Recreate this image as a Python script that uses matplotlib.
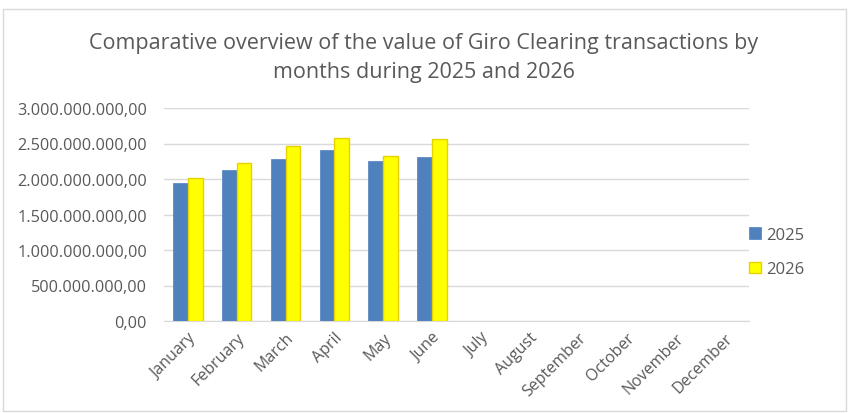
import matplotlib.pyplot as plt
import numpy as np
from matplotlib.ticker import FuncFormatter
from matplotlib.patches import Rectangle

months = ["January", "February", "March", "April", "May", "June", "July",
          "August", "September", "October", "November", "December"]
values_2025 = [1.948e9, 2.12e9, 2.28e9, 2.41e9, 2.25e9, 2.31e9]
values_2026 = [2.014e9, 2.23e9, 2.47e9, 2.58e9, 2.33e9, 2.56e9]
series_labels = ["2025", "2026"]

plt.rcParams['font.family'] = ['Open Sans', 'DejaVu Sans']

fig = plt.figure(figsize=(8.48, 4.14), dpi=100)
ax = fig.add_axes([163.6 / 848, (414 - 322) / 414, (749 - 163.6) / 848, (322 - 109) / 414])

x = np.arange(len(months))
w = 0.3
ax.bar(x[:len(values_2025)] - w / 2, values_2025, w, color="#4F81BD",
       edgecolor="#4F81BD", linewidth=0.5, label=series_labels[0], zorder=3)
ax.bar(x[:len(values_2026)] + w / 2, values_2026, w, color="#FFFF00",
       edgecolor="#E6D200", linewidth=1.0, label=series_labels[1], zorder=3)

ax.set_xlim(-0.5, len(months) - 0.5)
ax.set_ylim(0, 3.0e9)
ax.set_yticks(np.arange(0, 3.0e9 + 1, 0.5e9))


def fmt(v, pos):
    s = f"{v:,.2f}"
    return s.replace(",", "X").replace(".", ",").replace("X", ".")


ax.yaxis.set_major_formatter(FuncFormatter(fmt))
ax.grid(axis="y", color="#D9D9D9", linewidth=1, zorder=0)
for sp in ["top", "right", "left"]:
    ax.spines[sp].set_visible(False)
ax.spines["bottom"].set_color("#D9D9D9")
ax.tick_params(axis="both", length=0, colors="#595959")
ax.tick_params(axis="y", pad=12, labelsize=11.7)
ax.tick_params(axis="x", pad=6, labelsize=11.5)
ax.set_xticks(x)
ax.set_xticklabels(months, rotation=45, ha="right", rotation_mode="anchor")

fig.text(0.5, 1 - 58 / 414, "Comparative overview of the value of Giro Clearing transactions by\nmonths during 2025 and 2026",
         ha="center", va="center", fontsize=15.5, color="#595959", linespacing=1.5)

leg = fig.legend(loc="center left", bbox_to_anchor=(734 / 848, 1 - 253 / 414),
                 frameon=False, fontsize=12, handlelength=0.7, handleheight=0.7,
                 handletextpad=0.35, labelspacing=1.1)
for t in leg.get_texts():
    t.set_color("#595959")

fig.patches.append(Rectangle((3 / 848, 2 / 414), 1 - 5 / 848, 1 - 12 / 414,
                             transform=fig.transFigure, fill=False,
                             edgecolor="#D9D9D9", linewidth=1))

fig.savefig("out.png", dpi=100, facecolor="white")
